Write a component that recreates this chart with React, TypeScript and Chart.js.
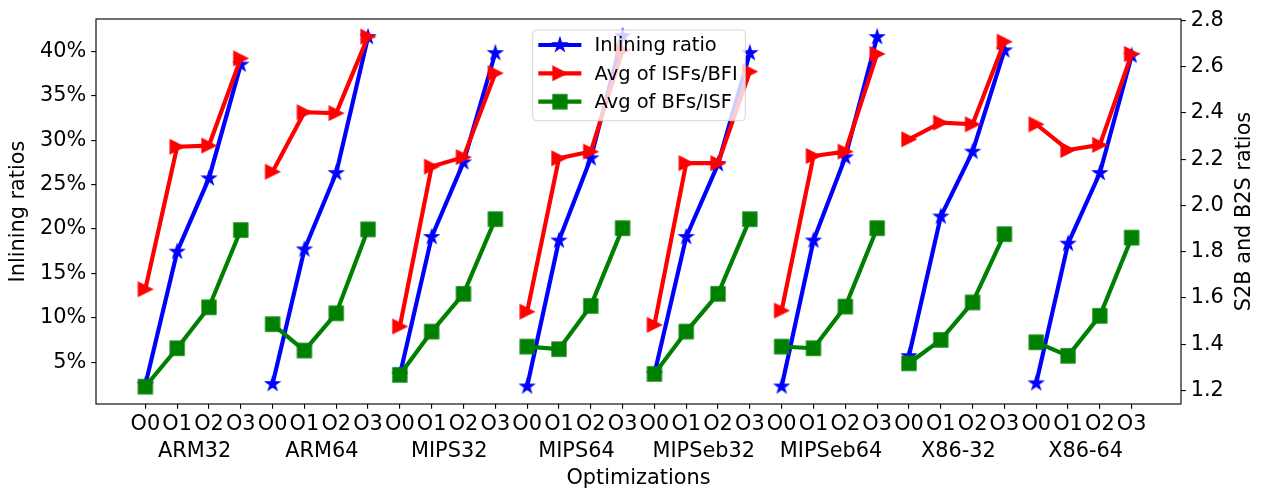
import React, { useEffect, useRef } from "react";
import { Chart, registerables } from "chart.js";

Chart.register(...registerables);

// ---------- data ----------
const groups = ["ARM32", "ARM64", "MIPS32", "MIPS64", "MIPSeb32", "MIPSeb64", "X86-32", "X86-64"];
const optLevels = ["O0", "O1", "O2", "O3"];

// Inlining ratio (%), left axis, 4 values per group
const inliningRatio = [
  2.45, 17.45, 25.7, 38.5,
  2.56, 17.7, 26.3, 41.6,
  3.57, 19.1, 27.5, 39.8,
  2.28, 18.7, 27.96, 41.7,
  3.68, 19.1, 27.3, 39.8,
  2.28, 18.7, 28.07, 41.6,
  5.7, 21.4, 28.7, 40.1,
  2.64, 18.35, 26.3, 39.5,
];
// Avg of ISFs/BFI, right axis
const isfPerBfi = [
  1.638, 2.254, 2.259, 2.636,
  2.146, 2.403, 2.399, 2.73,
  1.477, 2.168, 2.209, 2.572,
  1.541, 2.204, 2.233, 2.672,
  1.484, 2.183, 2.183, 2.579,
  1.546, 2.214, 2.233, 2.655,
  2.286, 2.358, 2.351, 2.708,
  2.351, 2.24, 2.262, 2.655,
];
// Avg of BFs/ISF, right axis
const bfPerIsf = [
  1.217, 1.383, 1.56, 1.894,
  1.487, 1.373, 1.534, 1.897,
  1.268, 1.455, 1.618, 1.941,
  1.39, 1.379, 1.566, 1.902,
  1.272, 1.455, 1.618, 1.941,
  1.39, 1.383, 1.563, 1.902,
  1.318, 1.419, 1.581, 1.876,
  1.409, 1.35, 1.523, 1.861,
];

const leftTicks = [5, 10, 15, 20, 25, 30, 35, 40];
const rightTicks = [1.2, 1.4, 1.6, 1.8, 2.0, 2.2, 2.4, 2.6, 2.8];
const seriesNames = ["Inlining ratio", "Avg of ISFs/BFI", "Avg of BFs/ISF"];

// ---------- styling ----------
const FONT = "DejaVu Sans";
const PT = 100 / 72;
const MS = 10 * PT;
const MEW = 1 * PT;
const LW = 3 * PT;
const BLUE = "#0000ff";
const RED = "#ff0000";
const GREEN = "#008000";

function makeMarker(kind: string, color: string): HTMLCanvasElement {
  const size = 20;
  const c = document.createElement("canvas");
  c.width = size;
  c.height = size;
  const ctx = c.getContext("2d")!;
  ctx.translate(size / 2, size / 2);
  ctx.beginPath();
  if (kind === "star") {
    const R = MS / 2;
    const r = R * 0.381966;
    for (let i = 0; i < 10; i++) {
      const ang = -Math.PI / 2 + (i * Math.PI) / 5;
      const rad = i % 2 === 0 ? R : r;
      const px = rad * Math.cos(ang);
      const py = rad * Math.sin(ang);
      if (i === 0) ctx.moveTo(px, py);
      else ctx.lineTo(px, py);
    }
  } else if (kind === "tri") {
    ctx.moveTo(MS / 2, 0);
    ctx.lineTo(-MS / 2, -MS / 2);
    ctx.lineTo(-MS / 2, MS / 2);
  } else {
    ctx.rect(-MS / 2, -MS / 2, MS, MS);
  }
  ctx.closePath();
  ctx.fillStyle = color;
  ctx.fill();
  ctx.lineWidth = MEW;
  ctx.strokeStyle = color;
  ctx.lineJoin = "miter";
  ctx.stroke();
  return c;
}

function buildPoints(vals: number[]) {
  const pts: { x: number; y: number | null }[] = [];
  vals.forEach((v, i) => {
    if (i > 0 && i % 4 === 0) pts.push({ x: i - 0.5, y: null });
    pts.push({ x: i, y: v });
  });
  return pts;
}

export default function App() {
  const ref = useRef<HTMLCanvasElement | null>(null);

  useEffect(() => {
    if (!ref.current) return;
    const markers = [makeMarker("star", BLUE), makeMarker("tri", RED), makeMarker("sq", GREEN)];
    const colors = [BLUE, RED, GREEN];
    const xPositions = inliningRatio.map((_, i) => i);
    const groupCenters = groups.map((_, g) => 4 * g + 1.55);

    const tickGrid = {
      display: true,
      drawOnChartArea: false,
      drawTicks: true,
      tickLength: 4.86,
      color: "#000",
      lineWidth: 1.11,
      tickWidth: 1.11,
      tickColor: "#000",
    };

    const framePlugin = {
      id: "frameAndTitles",
      afterDatasetsDraw(chart: any) {
        const { ctx, chartArea } = chart;
        ctx.save();
        ctx.strokeStyle = "#000";
        ctx.lineWidth = 1.11;
        ctx.strokeRect(chartArea.left, chartArea.top, chartArea.right - chartArea.left, chartArea.bottom - chartArea.top);
        ctx.restore();
      },
      afterDraw(chart: any) {
        const { ctx, chartArea } = chart;
        const cy = (chartArea.top + chartArea.bottom) / 2;
        // axis titles
        ctx.save();
        ctx.fillStyle = "#000";
        ctx.font = `20.83px "${FONT}"`;
        ctx.textAlign = "center";
        ctx.textBaseline = "alphabetic";
        ctx.save();
        ctx.translate(23.5, cy);
        ctx.rotate(-Math.PI / 2);
        ctx.fillText("Inlining ratios", 0, 0);
        ctx.restore();
        ctx.save();
        ctx.translate(1250, cy);
        ctx.rotate(-Math.PI / 2);
        ctx.fillText("S2B and B2S ratios", 0, 0);
        ctx.restore();
        ctx.restore();

        // legend
        const bx = 532.7, by = 30, bw = 212.6, bh = 90.7, rr = 3.9;
        ctx.save();
        ctx.beginPath();
        ctx.moveTo(bx + rr, by);
        ctx.lineTo(bx + bw - rr, by);
        ctx.arcTo(bx + bw, by, bx + bw, by + rr, rr);
        ctx.lineTo(bx + bw, by + bh - rr);
        ctx.arcTo(bx + bw, by + bh, bx + bw - rr, by + bh, rr);
        ctx.lineTo(bx + rr, by + bh);
        ctx.arcTo(bx, by + bh, bx, by + bh - rr, rr);
        ctx.lineTo(bx, by + rr);
        ctx.arcTo(bx, by, bx + rr, by, rr);
        ctx.closePath();
        ctx.fillStyle = "rgba(255,255,255,0.8)";
        ctx.fill();
        ctx.strokeStyle = "rgba(204,204,204,0.8)";
        ctx.lineWidth = 1;
        ctx.stroke();
        ctx.font = `19.44px "${FONT}"`;
        ctx.textAlign = "left";
        ctx.textBaseline = "alphabetic";
        const rows = [45, 73.3, 101.7];
        seriesNames.forEach((name, i) => {
          const y = rows[i];
          ctx.beginPath();
          ctx.moveTo(540.4, y);
          ctx.lineTo(579.3, y);
          ctx.strokeStyle = colors[i];
          ctx.lineWidth = LW;
          ctx.lineCap = "square";
          ctx.stroke();
          const m = markers[i];
          ctx.drawImage(m, 559.9 - m.width / 2, y - m.height / 2);
          ctx.fillStyle = "#000";
          ctx.fillText(name, 594.5, y + 6.3);
        });
        ctx.restore();
      },
    };

    const mkDataset = (label: string, vals: number[], i: number, axis: string, order: number) => ({
      label,
      data: buildPoints(vals),
      yAxisID: axis,
      borderColor: colors[i],
      backgroundColor: colors[i],
      borderWidth: LW,
      borderJoinStyle: "round",
      borderCapStyle: "square",
      pointStyle: markers[i],
      pointRadius: 7,
      pointHoverRadius: 7,
      tension: 0,
      spanGaps: false,
      order,
      clip: false,
    });

    const chart = new Chart(ref.current, {
      type: "line",
      data: {
        datasets: [
          mkDataset(seriesNames[0], inliningRatio, 0, "y", 3),
          mkDataset(seriesNames[1], isfPerBfi, 1, "y1", 2),
          mkDataset(seriesNames[2], bfPerIsf, 2, "y1", 1),
        ] as any,
      },
      options: {
        responsive: false,
        animation: false,
        events: [],
        layout: { padding: { top: 19, left: 0, right: 0, bottom: 0 } },
        plugins: { legend: { display: false }, tooltip: { enabled: false } },
        scales: {
          x: {
            type: "linear",
            position: "bottom",
            min: -1.55,
            max: 32.55,
            weight: 0,
            grid: tickGrid,
            border: { display: false },
            ticks: {
              autoSkip: false,
              maxRotation: 0,
              minRotation: 0,
              padding: 3.1,
              color: "#000",
              font: { family: FONT, size: 20.83, lineHeight: 1.2 },
              callback: (_v: any, i: number) => optLevels[i % 4],
            },
            afterBuildTicks: (s: any) => {
              s.ticks = xPositions.map((v) => ({ value: v }));
            },
            afterFit: (s: any) => {
              s.height = 36;
            },
          },
          x2: {
            type: "linear",
            position: "bottom",
            min: -1.55,
            max: 32.55,
            weight: 1,
            grid: { display: false, drawTicks: false },
            border: { display: false },
            ticks: {
              autoSkip: false,
              maxRotation: 0,
              minRotation: 0,
              padding: 0.7,
              color: "#000",
              font: { family: FONT, size: 20.83, lineHeight: 1 },
              callback: (_v: any, i: number) => groups[i],
            },
            afterBuildTicks: (s: any) => {
              s.ticks = groupCenters.map((v) => ({ value: v }));
            },
            title: {
              display: true,
              text: "Optimizations",
              color: "#000",
              font: { family: FONT, size: 20.83, lineHeight: 1 },
              padding: { top: 0, bottom: 3.1 },
            },
            afterFit: (s: any) => {
              s.height = 52;
            },
          },
          y: {
            type: "linear",
            position: "left",
            min: 0.307,
            max: 43.63,
            grid: tickGrid,
            border: { display: false },
            ticks: {
              padding: 4.86,
              color: "#000",
              font: { family: FONT, size: 20.83 },
              callback: (v: any) => `${v}%`,
            },
            afterBuildTicks: (s: any) => {
              s.ticks = leftTicks.map((v) => ({ value: v }));
            },
            afterFit: (s: any) => {
              s.width = 96;
            },
          },
          y1: {
            type: "linear",
            position: "right",
            min: 1.142,
            max: 2.806,
            grid: tickGrid,
            border: { display: false },
            ticks: {
              padding: 4.86,
              color: "#000",
              font: { family: FONT, size: 20.83 },
              callback: (v: any) => Number(v).toFixed(1),
            },
            afterBuildTicks: (s: any) => {
              s.ticks = rightTicks.map((v) => ({ value: v }));
            },
            afterFit: (s: any) => {
              s.width = 95;
            },
          },
        },
      } as any,
      plugins: [framePlugin],
    });
    return () => chart.destroy();
  }, []);

  return (
    <div style={{ position: "absolute", left: 0, top: 0, width: 1276, height: 492, background: "#fff" }}>
      <canvas ref={ref} width={1276} height={492} style={{ display: "block", width: 1276, height: 492 }} />
    </div>
  );
}
